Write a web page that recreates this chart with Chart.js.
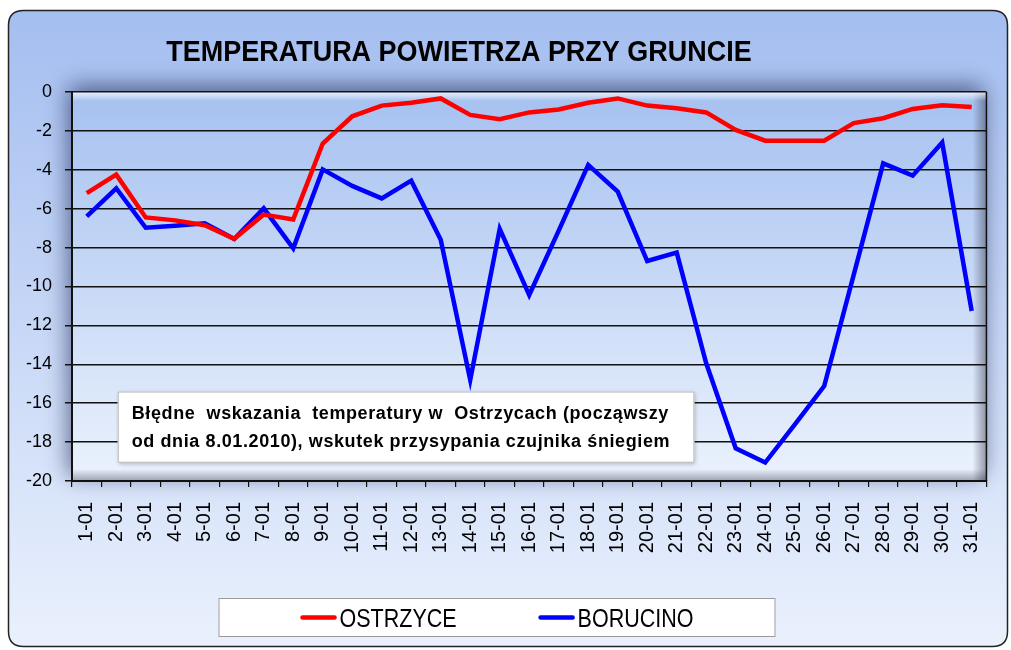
<!DOCTYPE html>
<html>
<head>
<meta charset="utf-8">
<script src="https://cdn.jsdelivr.net/npm/chart.js@4.4.1/dist/chart.umd.min.js"></script>
<style>
html,body{margin:0;padding:0;background:#fff;}
#wrap{width:1011px;height:650px;position:relative;}
</style>
</head>
<body>
<div id="wrap"><canvas id="c" width="1011" height="650"></canvas></div>
<script>
// ---- data ----
const titleText = 'TEMPERATURA POWIETRZA PRZY GRUNCIE';
const days = ['1-01','2-01','3-01','4-01','5-01','6-01','7-01','8-01','9-01','10-01',
  '11-01','12-01','13-01','14-01','15-01','16-01','17-01','18-01','19-01','20-01',
  '21-01','22-01','23-01','24-01','25-01','26-01','27-01','28-01','29-01','30-01','31-01'];
const ostrzyce = [-5.2, -4.25, -6.45, -6.6, -6.85, -7.55, -6.3, -6.55, -2.65, -1.25,
  -0.7, -0.55, -0.33, -1.18, -1.4, -1.05, -0.9, -0.55, -0.33, -0.7,
  -0.84, -1.05, -1.95, -2.5, -2.5, -2.5, -1.6, -1.35, -0.87, -0.68, -0.77];
const borucino = [-6.4, -4.95, -6.98, -6.88, -6.75, -7.56, -5.98, -8.04, -3.98, -4.83,
  -5.47, -4.56, -7.6, -14.8, -7.04, -10.44, -7.13, -3.75, -5.12, -8.69,
  -8.26, -13.95, -18.32, -19.05, -17.1, -15.12, -9.4, -3.67, -4.3, -2.6, -11.26];
const seriesNames = ['OSTRZYCE', 'BORUCINO'];
const seriesColors = ['#ff0000', '#0000ff'];
const yMin = -20, yMax = 0, yStep = 2;
const noteLines = ['Błędne  wskazania  temperatury w  Ostrzycach (począwszy',
                   'od dnia 8.01.2010), wskutek przysypania czujnika śniegiem'];

// ---- decoration plugin ----
function rr(ctx, x, y, w, h, r){
  ctx.beginPath();
  ctx.moveTo(x+r, y); ctx.lineTo(x+w-r, y); ctx.quadraticCurveTo(x+w, y, x+w, y+r);
  ctx.lineTo(x+w, y+h-r); ctx.quadraticCurveTo(x+w, y+h, x+w-r, y+h);
  ctx.lineTo(x+r, y+h); ctx.quadraticCurveTo(x, y+h, x, y+h-r);
  ctx.lineTo(x, y+r); ctx.quadraticCurveTo(x, y, x+r, y); ctx.closePath();
}
const decor = {
  id: 'decor',
  beforeDraw(chart){
    const {ctx, chartArea:a, width, height} = chart;
    ctx.save();
    ctx.fillStyle = '#ffffff'; ctx.fillRect(0,0,width,height);
    // outer frame
    const fg = ctx.createLinearGradient(0, 10, 0, 647);
    fg.addColorStop(0, '#a4bef0'); fg.addColorStop(1, '#eaf1fd');
    rr(ctx, 8.5, 10.5, 999, 636, 15);
    ctx.fillStyle = fg; ctx.fill();
    ctx.lineWidth = 1.5; ctx.strokeStyle = '#222'; ctx.stroke();
    // plot area with shadow
    const pg = ctx.createLinearGradient(0, a.top, 0, a.bottom);
    pg.addColorStop(0, '#a6c1f0'); pg.addColorStop(1, '#ebf2fd');
    ctx.save();
    ctx.shadowColor = 'rgba(25,35,80,0.65)'; ctx.shadowBlur = 22;
    ctx.shadowOffsetX = -3; ctx.shadowOffsetY = -6;
    ctx.fillStyle = pg; ctx.fillRect(a.left, a.top, a.width, a.height);
    ctx.restore();
    ctx.fillStyle = pg; ctx.fillRect(a.left, a.top, a.width, a.height);
    // bevels
    let g = ctx.createLinearGradient(a.right-14, 0, a.right, 0);
    g.addColorStop(0, 'rgba(40,40,60,0)'); g.addColorStop(1, 'rgba(40,40,60,0.45)');
    ctx.fillStyle = g; ctx.fillRect(a.right-14, a.top, 14, a.height);
    g = ctx.createLinearGradient(0, a.bottom-12, 0, a.bottom);
    g.addColorStop(0, 'rgba(40,40,60,0)'); g.addColorStop(1, 'rgba(40,40,60,0.4)');
    ctx.fillStyle = g; ctx.fillRect(a.left, a.bottom-12, a.width, 12);
    g = ctx.createLinearGradient(0, a.top, 0, a.top+9);
    g.addColorStop(0, 'rgba(255,255,255,0.75)'); g.addColorStop(1, 'rgba(255,255,255,0)');
    ctx.fillStyle = g; ctx.fillRect(a.left, a.top, a.width, 9);
    ctx.restore();
  },
  beforeDatasetsDraw(chart){
    const {ctx, chartArea:a, scales:{x, y}} = chart;
    ctx.save();
    // annotation box anchored to scale values
    const l = x.getPixelForValue(1.05), r = x.getPixelForValue(20.6);
    const t = y.getPixelForValue(-15.4), b = y.getPixelForValue(-19.06);
    ctx.shadowColor = 'rgba(0,0,0,0.25)'; ctx.shadowBlur = 4; ctx.shadowOffsetX = 1; ctx.shadowOffsetY = 1;
    ctx.fillStyle = '#ffffff'; ctx.fillRect(l, t, r-l, b-t);
    ctx.shadowColor = 'transparent';
    ctx.strokeStyle = '#b5b5b5'; ctx.lineWidth = 1; ctx.strokeRect(l+0.5, t+0.5, r-l-1, b-t-1);
    ctx.fillStyle = '#000';
    ctx.font = 'bold 18px "Liberation Sans", Arial, sans-serif';
    ctx.letterSpacing = '0.6px';
    ctx.textAlign = 'left'; ctx.textBaseline = 'alphabetic';
    ctx.fillText(noteLines[0], l+14, t+27.5);
    ctx.fillText(noteLines[1], l+14, t+55.5);
    ctx.letterSpacing = '0px';
    ctx.restore();
  },
  afterDraw(chart){
    const {ctx, chartArea:a} = chart;
    ctx.save();
    // right border of plot
    ctx.strokeStyle = '#111'; ctx.lineWidth = 1.5;
    ctx.beginPath(); ctx.moveTo(a.right, a.top); ctx.lineTo(a.right, a.bottom); ctx.stroke();
    // title (slightly condensed)
    ctx.fillStyle = '#000';
    ctx.font = 'bold 29px "Liberation Sans", Arial, sans-serif';
    ctx.textAlign = 'center'; ctx.textBaseline = 'alphabetic';
    ctx.save();
    ctx.translate(459, 61);
    ctx.scale(0.93, 1);
    ctx.fillText(titleText, 0, 0);
    ctx.restore();
    // legend
    const ds = chart.data.datasets;
    const sx = 0.86;
    ctx.font = '25px "Liberation Sans", Arial, sans-serif';
    const lineLen = 36, gapText = 3, gapItem = 82;
    const widths = ds.map(d => lineLen + gapText + ctx.measureText(d.label).width*sx);
    const total = widths.reduce((s,w)=>s+w,0) + gapItem*(ds.length-1);
    const cx = 497, boxW = 557, boxT = 598, boxH = 39;
    ctx.fillStyle = '#fff'; ctx.fillRect(cx-boxW/2, boxT, boxW, boxH);
    ctx.strokeStyle = '#9a9a9a'; ctx.lineWidth = 1;
    ctx.strokeRect(cx-boxW/2+0.5, boxT+0.5, boxW-1, boxH-1);
    let xx = cx - total/2;
    ds.forEach((d,i)=>{
      ctx.strokeStyle = d.borderColor; ctx.lineWidth = 4.5; ctx.lineCap = 'round';
      ctx.beginPath(); ctx.moveTo(xx+2, boxT+19.5); ctx.lineTo(xx+lineLen-2, boxT+19.5); ctx.stroke();
      ctx.fillStyle = '#000'; ctx.textAlign = 'left';
      ctx.save();
      ctx.translate(xx+lineLen+gapText, boxT+29);
      ctx.scale(sx, 1);
      ctx.fillText(d.label, 0, 0);
      ctx.restore();
      xx += widths[i] + gapItem;
    });
    ctx.restore();
  }
};

new Chart(document.getElementById('c'), {
  type: 'line',
  data: {
    labels: days,
    datasets: [
      {label: seriesNames[0], data: ostrzyce, borderColor: seriesColors[0], backgroundColor: seriesColors[0],
       borderWidth: 4.5, pointRadius: 0, tension: 0, fill: false},
      {label: seriesNames[1], data: borucino, borderColor: seriesColors[1], backgroundColor: seriesColors[1],
       borderWidth: 4.5, pointRadius: 0, tension: 0, fill: false}
    ]
  },
  options: {
    responsive: false,
    animation: false,
    devicePixelRatio: 1,
    layout: {padding: {left: 0, top: 92, right: 19, bottom: 0}},
    plugins: {legend: {display: false}, title: {display: false}, tooltip: {enabled: false}},
    scales: {
      x: {
        type: 'category',
        offset: true,
        grid: {display: true, drawOnChartArea: false, drawTicks: true, tickLength: 6, color: '#111', lineWidth: 1.2, offset: true},
        border: {display: true, color: '#111', width: 2},
        ticks: {autoSkip: false, minRotation: 90, maxRotation: 90, padding: 15, color: '#000',
                font: {family: '"Liberation Sans", Arial, sans-serif', size: 20}},
        afterFit(s){ s.height = 169; }
      },
      y: {
        min: yMin, max: yMax,
        grid: {color: '#111', lineWidth: 1.5, tickLength: 7, drawTicks: true},
        border: {display: true, color: '#111', width: 2},
        ticks: {stepSize: yStep, padding: 13, color: '#000',
                font: {family: '"Liberation Sans", Arial, sans-serif', size: 18}},
        afterFit(s){ s.width = 72; }
      }
    }
  },
  plugins: [decor]
});
</script>
</body>
</html>
